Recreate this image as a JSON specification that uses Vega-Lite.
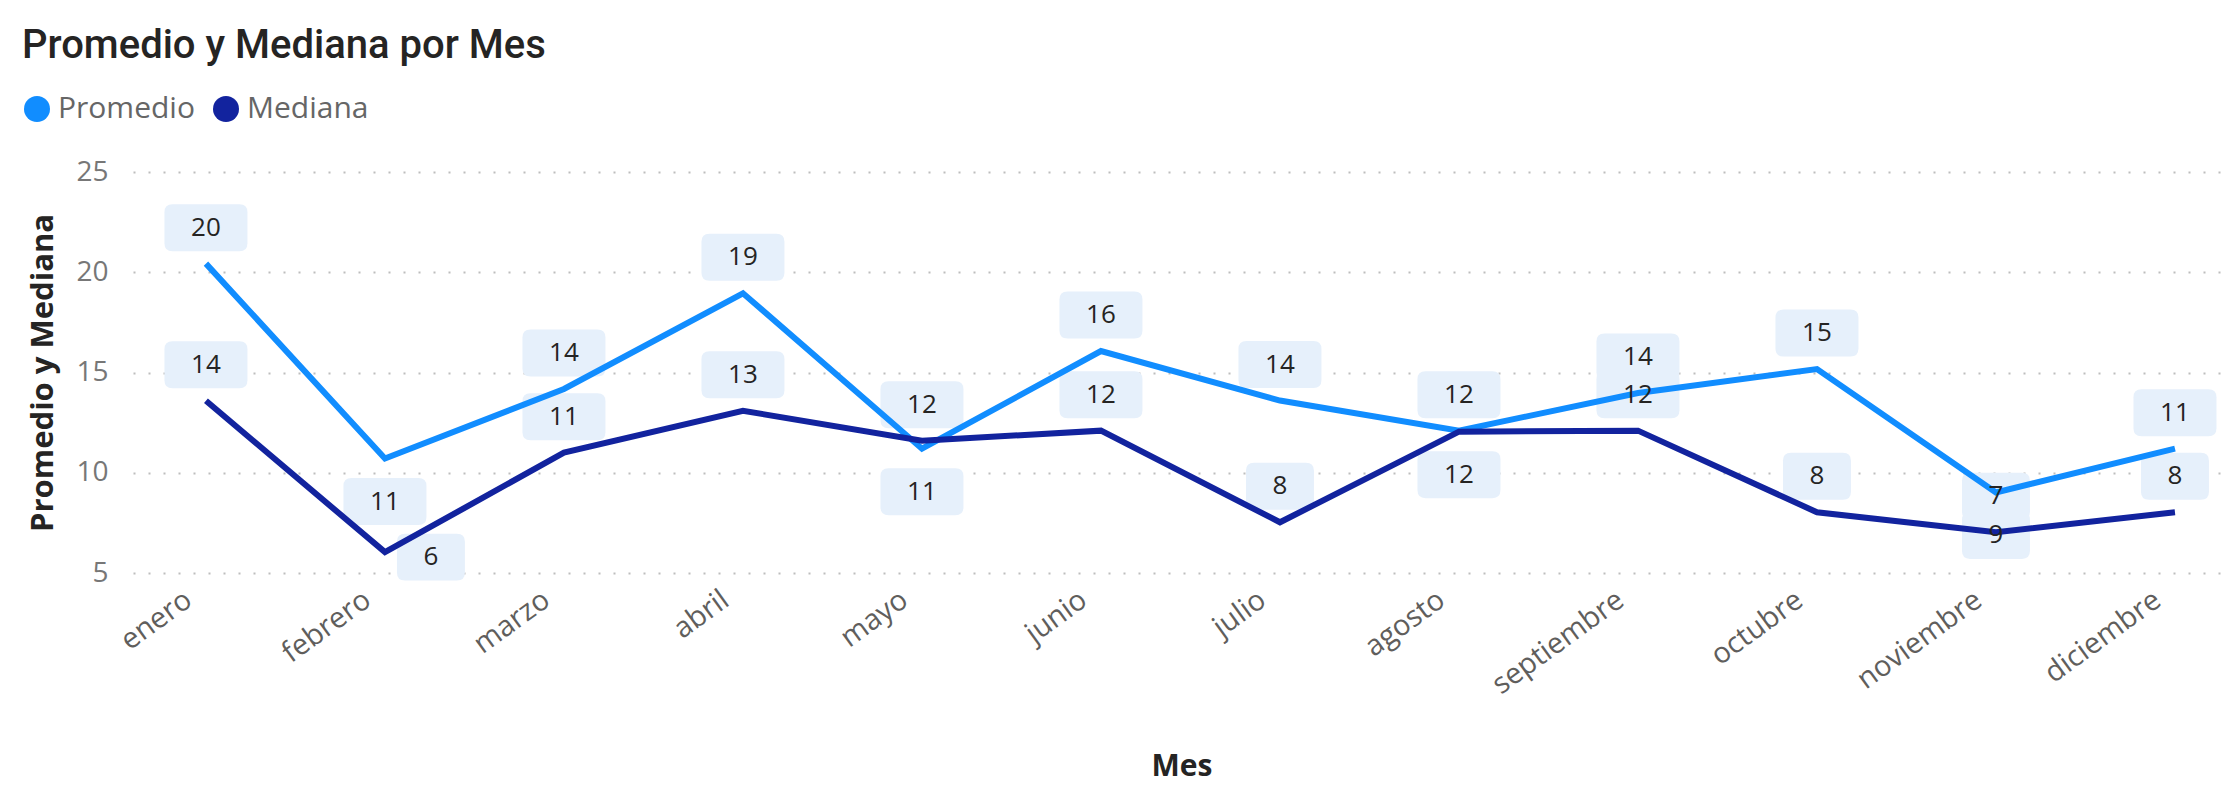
{
  "$schema": "https://vega.github.io/schema/vega-lite/v6.json",
  "width": 2097,
  "height": 401,
  "autosize": {"type": "none"},
  "padding": {"left": 133, "top": 172, "right": 6, "bottom": 214},
  "background": "white",
  "title": {
    "text": "Promedio y Mediana por Mes",
    "anchor": "start",
    "frame": "group",
    "font": "Roboto",
    "fontSize": 40,
    "fontWeight": 500,
    "color": "#252423",
    "dx": -111,
    "offset": 28
  },
  "config": {
    "view": {"stroke": null},
    "font": "Open Sans"
  },
  "data": {
    "values": [
      {"mes": "enero", "serie": "Promedio", "valor": 20.43, "pos": "arriba"},
      {"mes": "febrero", "serie": "Promedio", "valor": 10.71, "pos": "abajo"},
      {"mes": "marzo", "serie": "Promedio", "valor": 14.18, "pos": "arriba"},
      {"mes": "abril", "serie": "Promedio", "valor": 18.95, "pos": "arriba"},
      {"mes": "mayo", "serie": "Promedio", "valor": 11.2, "pos": "abajo"},
      {"mes": "junio", "serie": "Promedio", "valor": 16.07, "pos": "arriba"},
      {"mes": "julio", "serie": "Promedio", "valor": 13.6, "pos": "arriba"},
      {"mes": "agosto", "serie": "Promedio", "valor": 12.1, "pos": "arriba"},
      {"mes": "septiembre", "serie": "Promedio", "valor": 13.98, "pos": "arriba"},
      {"mes": "octubre", "serie": "Promedio", "valor": 15.17, "pos": "arriba"},
      {"mes": "noviembre", "serie": "Promedio", "valor": 9.02, "pos": "abajo"},
      {"mes": "diciembre", "serie": "Promedio", "valor": 11.2, "pos": "arriba"},
      {"mes": "enero", "serie": "Mediana", "valor": 13.59, "pos": "arriba"},
      {"mes": "febrero", "serie": "Mediana", "valor": 6.04, "pos": "derecha"},
      {"mes": "marzo", "serie": "Mediana", "valor": 11.0, "pos": "arriba"},
      {"mes": "abril", "serie": "Mediana", "valor": 13.09, "pos": "arriba"},
      {"mes": "mayo", "serie": "Mediana", "valor": 11.6, "pos": "arriba"},
      {"mes": "junio", "serie": "Mediana", "valor": 12.1, "pos": "arriba"},
      {"mes": "julio", "serie": "Mediana", "valor": 7.53, "pos": "arriba"},
      {"mes": "agosto", "serie": "Mediana", "valor": 12.05, "pos": "abajo"},
      {"mes": "septiembre", "serie": "Mediana", "valor": 12.1, "pos": "arriba"},
      {"mes": "octubre", "serie": "Mediana", "valor": 8.03, "pos": "arriba"},
      {"mes": "noviembre", "serie": "Mediana", "valor": 7.03, "pos": "arriba"},
      {"mes": "diciembre", "serie": "Mediana", "valor": 8.03, "pos": "arriba"}
    ]
  },
  "encoding": {
    "x": {
      "field": "mes",
      "type": "ordinal",
      "sort": ["enero", "febrero", "marzo", "abril", "mayo", "junio", "julio", "agosto", "septiembre", "octubre", "noviembre", "diciembre"],
      "scale": {"type": "point", "padding": 0.3575, "align": 0.57},
      "axis": {
        "title": "Mes",
        "titleFont": "Open Sans",
        "titleFontSize": 30,
        "titleFontWeight": "bold",
        "titleColor": "#252423",
        "titlePadding": 52,
        "labelAngle": -36,
        "labelFontSize": 29,
        "labelColor": "#605E5C",
        "labelPadding": 12,
        "labelOffset": -26,
        "ticks": false,
        "domain": false,
        "grid": false
      }
    },
    "y": {
      "field": "valor",
      "type": "quantitative",
      "scale": {"domain": [5, 25], "nice": false, "zero": false},
      "axis": {
        "title": "Promedio y Mediana",
        "titleFont": "Open Sans",
        "titleFontSize": 31,
        "titleFontWeight": "bold",
        "titleColor": "#252423",
        "titlePadding": 16,
        "values": [5, 10, 15, 20, 25],
        "labelFontSize": 28,
        "labelColor": "#777777",
        "labelPadding": 25,
        "ticks": false,
        "domain": false,
        "grid": true,
        "gridColor": "#bdbdbd",
        "gridDash": [2, 13],
        "gridWidth": 2
      }
    }
  },
  "layer": [
    {
      "transform": [{"filter": "datum.pos == 'arriba'"}],
      "mark": {"type": "point", "filled": true, "size": 6889, "color": "#e6f0fb", "opacity": 1, "strokeWidth": 0},
      "encoding": {
        "shape": {
          "condition": {"test": "datum.valor < 9.5", "value": "M-0.626,-1.433L0.626,-1.433Q0.819,-1.433 0.819,-1.24L0.819,-0.494Q0.819,-0.301 0.626,-0.301L-0.626,-0.301Q-0.819,-0.301 -0.819,-0.494L-0.819,-1.24Q-0.819,-1.433 -0.626,-1.433Z"},
          "value": "M-0.807,-1.433L0.807,-1.433Q1,-1.433 1,-1.24L1,-0.494Q1,-0.301 0.807,-0.301L-0.807,-0.301Q-1,-0.301 -1,-0.494L-1,-1.24Q-1,-1.433 -0.807,-1.433Z"
        }
      }
    },
    {
      "transform": [{"filter": "datum.pos == 'abajo'"}],
      "mark": {"type": "point", "filled": true, "size": 6889, "color": "#e6f0fb", "opacity": 1, "strokeWidth": 0},
      "encoding": {
        "shape": {
          "condition": {"test": "datum.valor < 9.5", "value": "M-0.626,0.47L0.626,0.47Q0.819,0.47 0.819,0.663L0.819,1.409Q0.819,1.602 0.626,1.602L-0.626,1.602Q-0.819,1.602 -0.819,1.409L-0.819,0.663Q-0.819,0.47 -0.626,0.47Z"},
          "value": "M-0.807,0.47L0.807,0.47Q1,0.47 1,0.663L1,1.409Q1,1.602 0.807,1.602L-0.807,1.602Q-1,1.602 -1,1.409L-1,0.663Q-1,0.47 -0.807,0.47Z"
        }
      }
    },
    {
      "transform": [{"filter": "datum.pos == 'derecha'"}],
      "mark": {"type": "point", "filled": true, "size": 6889, "color": "#e6f0fb", "opacity": 1, "strokeWidth": 0},
      "encoding": {
        "shape": {"value": "M0.482,-0.446L1.734,-0.446Q1.927,-0.446 1.927,-0.253L1.927,0.493Q1.927,0.686 1.734,0.686L0.482,0.686Q0.289,0.686 0.289,0.493L0.289,-0.253Q0.289,-0.446 0.482,-0.446Z"}
      }
    },
    {
      "mark": {"type": "line", "strokeWidth": 6, "strokeJoin": "miter"},
      "encoding": {
        "color": {
          "field": "serie",
          "type": "nominal",
          "scale": {"domain": ["Promedio", "Mediana"], "range": ["#118DFF", "#12239E"]},
          "sort": ["Promedio", "Mediana"],
          "legend": {
            "title": null,
            "orient": "none",
            "direction": "horizontal",
            "legendX": -111,
            "legendY": -78,
            "symbolType": "circle",
            "symbolSize": 676,
            "symbolStrokeWidth": 0,
            "labelFont": "Open Sans",
            "labelFontSize": 30,
            "labelColor": "#666666",
            "labelOffset": 6,
            "columnPadding": 16,
            "encode": {
              "symbols": {
                "update": {
                  "fill": {"scale": "color", "field": "value"},
                  "stroke": {"value": "transparent"},
                  "shape": {"value": "circle"}
                }
              }
            }
          }
        },
        "order": {"field": "serie", "sort": "descending"}
      }
    },
    {
      "transform": [{"filter": "datum.pos == 'arriba'"}],
      "mark": {"type": "text", "dy": -36, "fontSize": 26, "color": "#252423", "font": "Open Sans", "baseline": "middle", "align": "center"},
      "encoding": {"text": {"field": "valor", "type": "quantitative", "format": ".0f"}}
    },
    {
      "transform": [{"filter": "datum.pos == 'abajo'"}],
      "mark": {"type": "text", "dy": 43, "fontSize": 26, "color": "#252423", "font": "Open Sans", "baseline": "middle", "align": "center"},
      "encoding": {"text": {"field": "valor", "type": "quantitative", "format": ".0f"}}
    },
    {
      "transform": [{"filter": "datum.pos == 'derecha'"}],
      "mark": {"type": "text", "dx": 46, "dy": 5, "fontSize": 26, "color": "#252423", "font": "Open Sans", "baseline": "middle", "align": "center"},
      "encoding": {"text": {"field": "valor", "type": "quantitative", "format": ".0f"}}
    }
  ]
}
